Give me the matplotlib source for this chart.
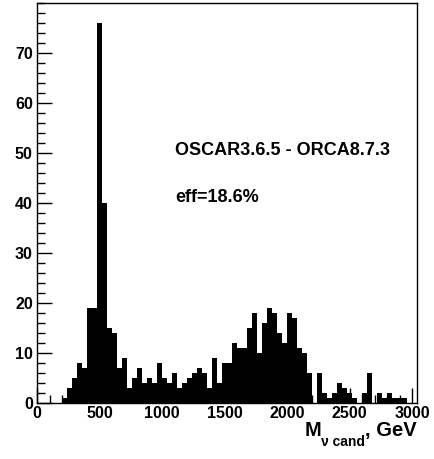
import numpy as np
import matplotlib
matplotlib.use("Agg")
import matplotlib.pyplot as plt
from matplotlib.ticker import MultipleLocator

plt.rcParams['font.family'] = ['Liberation Sans', 'DejaVu Sans']
plt.rcParams['font.weight'] = 'bold'

# Histogram: 76 bins of 40 GeV from 0 to 3040 GeV
bin_width = 40
counts = [0, 0, 0, 0, 0, 1, 3, 5, 8, 7,
          19, 19, 76, 40, 15, 14, 7, 9, 3, 5,
          7, 4, 5, 4, 8, 5, 4, 6, 3, 4,
          5, 6, 7, 6, 3, 9, 4, 8, 8, 12,
          11, 11, 15, 18, 10, 16, 19, 18, 14, 12,
          18, 17, 11, 10, 6, 0, 6, 2, 1, 2,
          4, 3, 2, 1, 0, 2, 6, 0, 2, 1,
          2, 1, 1, 1, 0, 0]
x_ticks = [0, 500, 1000, 1500, 2000, 2500, 3000]
y_ticks = [0, 10, 20, 30, 40, 50, 60, 70]
label_version = "OSCAR3.6.5 - ORCA8.7.3"
label_eff = "eff=18.6%"
xlabel_main = "M"
xlabel_sub = "ν cand"
xlabel_unit = ", GeV"

edges = np.arange(len(counts) + 1) * bin_width

W, H = 434, 459
fig = plt.figure(figsize=(W / 100, H / 100), dpi=100)
ax = fig.add_axes([37/W, 1 - 403/H, 380/W, 400/H])
ax.stairs(counts, edges, fill=True, color='black', linewidth=0)

ax.set_xlim(edges[0], edges[-1])
ax.set_ylim(0, 80)
ax.set_xticks(x_ticks)
ax.set_yticks(y_ticks)
ax.xaxis.set_minor_locator(MultipleLocator(100))
ax.yaxis.set_minor_locator(MultipleLocator(2))
ax.tick_params(which='both', direction='in', top=False, right=False,
               labelsize=11.5, width=1, color='black')
ax.tick_params(which='major', length=11)
ax.tick_params(which='minor', length=5.5)
ax.tick_params(axis='y', pad=3)
ax.tick_params(axis='x', pad=2)
for lab in ax.get_xticklabels() + ax.get_yticklabels():
    lab.set_fontweight('bold')
for s in ax.spines.values():
    s.set_linewidth(1.0)
    s.set_color('black')

ax.text(1104, 50.5, label_version, fontsize=13, fontweight='bold',
        ha='left', va='center')
ax.text(1104, 41, label_eff, fontsize=13, fontweight='bold',
        ha='left', va='center')

# x-axis title built from pieces, right-aligned at the frame's right edge
renderer = fig.canvas.get_renderer()
x_right = 417 / W
base_main = 1 - 436 / H
base_sub = 1 - 446 / H
t_unit = fig.text(x_right, base_main, xlabel_unit, fontsize=14.5,
                  fontweight='bold', ha='right', va='baseline')
bb = t_unit.get_window_extent(renderer)
t_sub = fig.text(bb.x0 / W, base_sub, xlabel_sub, fontsize=10,
                 fontweight='bold', ha='right', va='baseline')
bb2 = t_sub.get_window_extent(renderer)
fig.text(bb2.x0 / W, base_main, xlabel_main, fontsize=14.5,
         fontweight='bold', ha='right', va='baseline')

fig.savefig('out.png', dpi=100)
